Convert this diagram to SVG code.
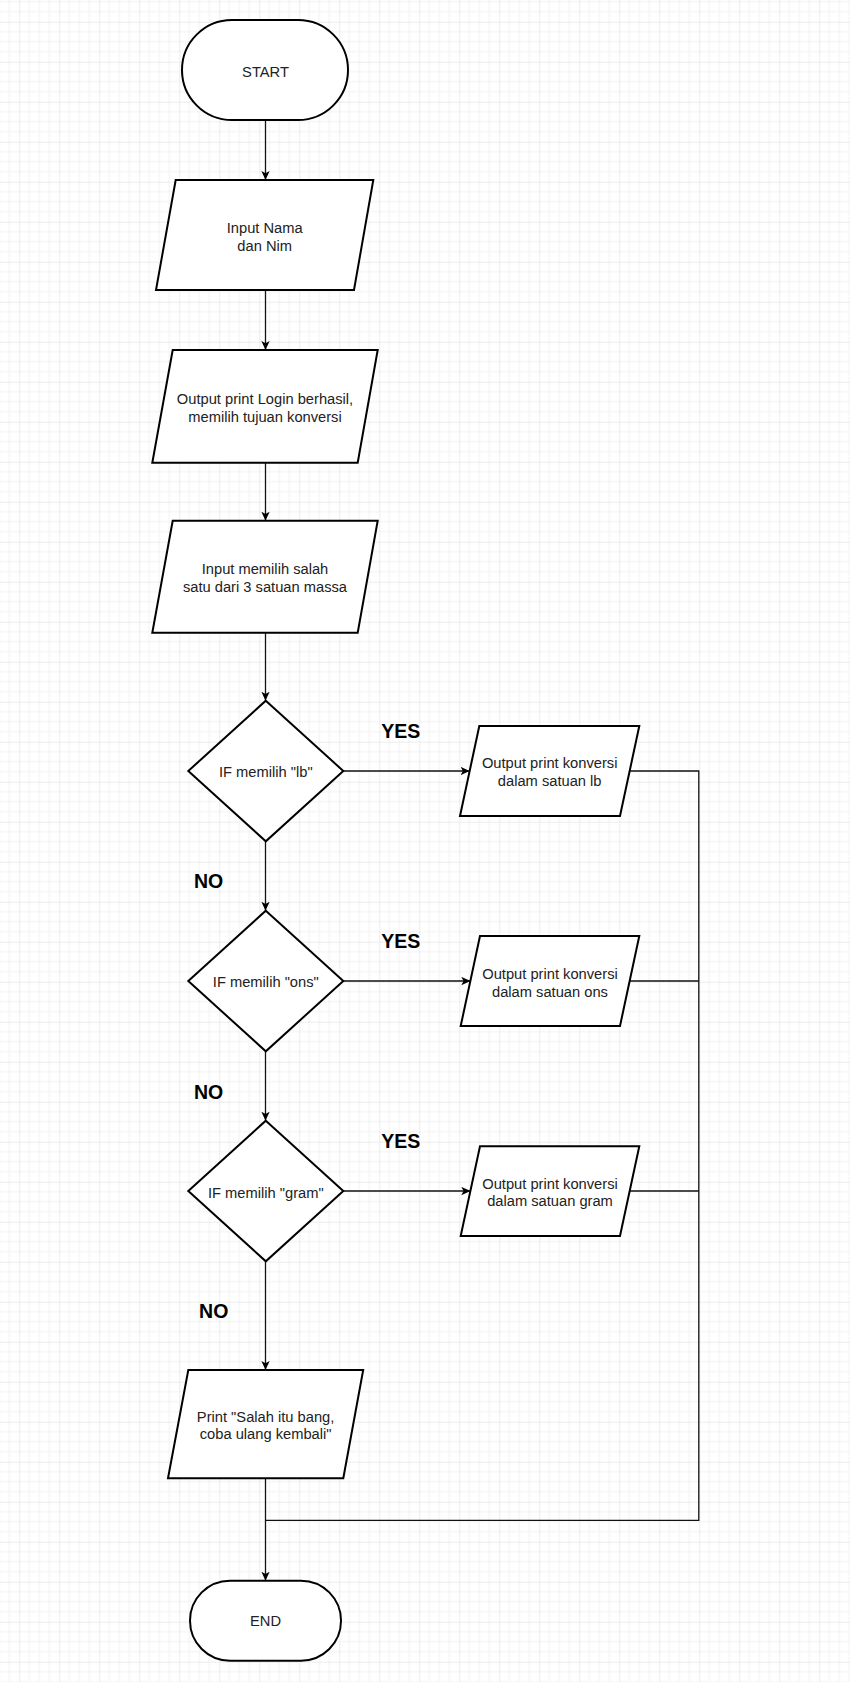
<svg xmlns="http://www.w3.org/2000/svg" width="850" height="1682" viewBox="0 0 850 1682">
  <defs>
    <pattern id="grid" patternUnits="userSpaceOnUse" x="19.3" y="21.7" width="40" height="40">
      <path d="M10,0 V40 M20,0 V40 M30,0 V40 M0,10 H40 M0,20 H40 M0,30 H40" stroke="#f1f1f1" stroke-width="1" fill="none"/>
      <path d="M0,0 V40 M0,0 H40" stroke="#dcdcdc" stroke-width="1" fill="none"/>
    </pattern>
    <marker id="arrow" markerUnits="userSpaceOnUse" markerWidth="9" markerHeight="9" viewBox="0 0 10 10" refX="10" refY="5" orient="auto">
      <path d="M0,0.4 L10,5 L0,9.6 L2.5,5 z" fill="#000"/>
    </marker>
    <style>
      .shape { fill: #ffffff; stroke: #000000; stroke-width: 2; }
      .edge { fill: none; stroke: #111111; stroke-width: 1.3; }
      .arrow { marker-end: url(#arrow); }
      .txt { font-family: "Liberation Sans", Arial, Helvetica, sans-serif; font-size: 14.7px; fill: #222222; text-anchor: middle; }
      .lbl { font-family: "Liberation Sans", Arial, Helvetica, sans-serif; font-size: 19.5px; font-weight: bold; fill: #000000; text-anchor: middle; }
    </style>
  </defs>

  <rect x="0" y="0" width="850" height="1682" fill="#ffffff"/>
  <rect x="0" y="0" width="850" height="1682" fill="url(#grid)"/>

  <g id="connectors">
    <line class="edge arrow" x1="265.5" y1="120" x2="265.5" y2="180"/>
    <line class="edge arrow" x1="265.5" y1="290" x2="265.5" y2="350"/>
    <line class="edge arrow" x1="265.5" y1="462.7" x2="265.5" y2="520.7"/>
    <line class="edge arrow" x1="265.5" y1="632.7" x2="265.5" y2="700.7"/>
    <line class="edge arrow" x1="265.5" y1="841.3" x2="265.5" y2="910.7"/>
    <line class="edge arrow" x1="265.5" y1="1051.3" x2="265.5" y2="1120.7"/>
    <line class="edge arrow" x1="265.5" y1="1261.3" x2="265.5" y2="1370"/>
    <line class="edge arrow" x1="265.5" y1="1478.3" x2="265.5" y2="1580.7"/>
    <line class="edge arrow" x1="343.3" y1="771" x2="469.6" y2="771"/>
    <line class="edge arrow" x1="343.3" y1="981" x2="470.3" y2="981"/>
    <line class="edge arrow" x1="343.3" y1="1191" x2="470.3" y2="1191"/>
    <polyline class="edge" points="629.7,771 698.8,771 698.8,1520.3 265.5,1520.3"/>
    <line class="edge" x1="629.7" y1="981" x2="698.8" y2="981"/>
    <line class="edge" x1="629.7" y1="1191" x2="698.8" y2="1191"/>
  </g>

  <g id="start">
    <rect class="shape" x="182" y="20" width="166" height="100" rx="50" ry="50"/>
    <text class="txt" x="265.5" y="76.7">START</text>
  </g>

  <g id="input-nama">
    <polygon class="shape" points="175.7,180 373.3,180 354,290 156,290"/>
    <text class="txt" x="264.7" y="233.3">Input Nama</text>
    <text class="txt" x="264.7" y="250.7">dan Nim</text>
  </g>

  <g id="output-login">
    <polygon class="shape" points="172.7,350 377.7,350 357.7,462.7 152.3,462.7"/>
    <text class="txt" x="265" y="404">Output print Login berhasil,</text>
    <text class="txt" x="265" y="421.7">memilih tujuan konversi</text>
  </g>

  <g id="input-satuan">
    <polygon class="shape" points="172.7,520.7 377.7,520.7 357.7,632.7 152.3,632.7"/>
    <text class="txt" x="265" y="574.3">Input memilih salah</text>
    <text class="txt" x="265" y="591.7">satu dari 3 satuan massa</text>
  </g>

  <g id="if-lb">
    <polygon class="shape" points="265.8,700.7 343.3,771 265.8,841.3 188.3,771"/>
    <text class="txt" x="265.8" y="776.7">IF memilih "lb"</text>
  </g>

  <g id="if-ons">
    <polygon class="shape" points="265.8,910.7 343.3,981 265.8,1051.3 188.3,981"/>
    <text class="txt" x="265.8" y="987.3">IF memilih "ons"</text>
  </g>

  <g id="if-gram">
    <polygon class="shape" points="265.8,1120.7 343.3,1191 265.8,1261.3 188.3,1191"/>
    <text class="txt" x="265.8" y="1197.7">IF memilih "gram"</text>
  </g>

  <g id="out-lb">
    <polygon class="shape" points="479.3,726 639.3,726 620,816 460,816"/>
    <text class="txt" x="549.7" y="768.3">Output print konversi</text>
    <text class="txt" x="549.7" y="786">dalam satuan lb</text>
  </g>

  <g id="out-ons">
    <polygon class="shape" points="480,936 639.3,936 620,1026 460.7,1026"/>
    <text class="txt" x="550" y="979">Output print konversi</text>
    <text class="txt" x="550" y="996.7">dalam satuan ons</text>
  </g>

  <g id="out-gram">
    <polygon class="shape" points="480,1146.3 639.3,1146.3 620,1236 460.7,1236"/>
    <text class="txt" x="550" y="1188.7">Output print konversi</text>
    <text class="txt" x="550" y="1206.3">dalam satuan gram</text>
  </g>

  <g id="print-salah">
    <polygon class="shape" points="188.3,1370 363.2,1370 343.3,1478.3 168,1478.3"/>
    <text class="txt" x="265.6" y="1421.7">Print "Salah itu bang,</text>
    <text class="txt" x="265.6" y="1439.3">coba ulang kembali"</text>
  </g>

  <g id="end">
    <rect class="shape" x="190" y="1580.7" width="151" height="80" rx="40" ry="40"/>
    <text class="txt" x="265.5" y="1626">END</text>
  </g>

  <g id="labels">
    <text class="lbl" x="400.8" y="738">YES</text>
    <text class="lbl" x="400.8" y="948.3">YES</text>
    <text class="lbl" x="400.8" y="1148.3">YES</text>
    <text class="lbl" x="208.5" y="888.3">NO</text>
    <text class="lbl" x="208.5" y="1099">NO</text>
    <text class="lbl" x="213.7" y="1317.7">NO</text>
  </g>
</svg>
